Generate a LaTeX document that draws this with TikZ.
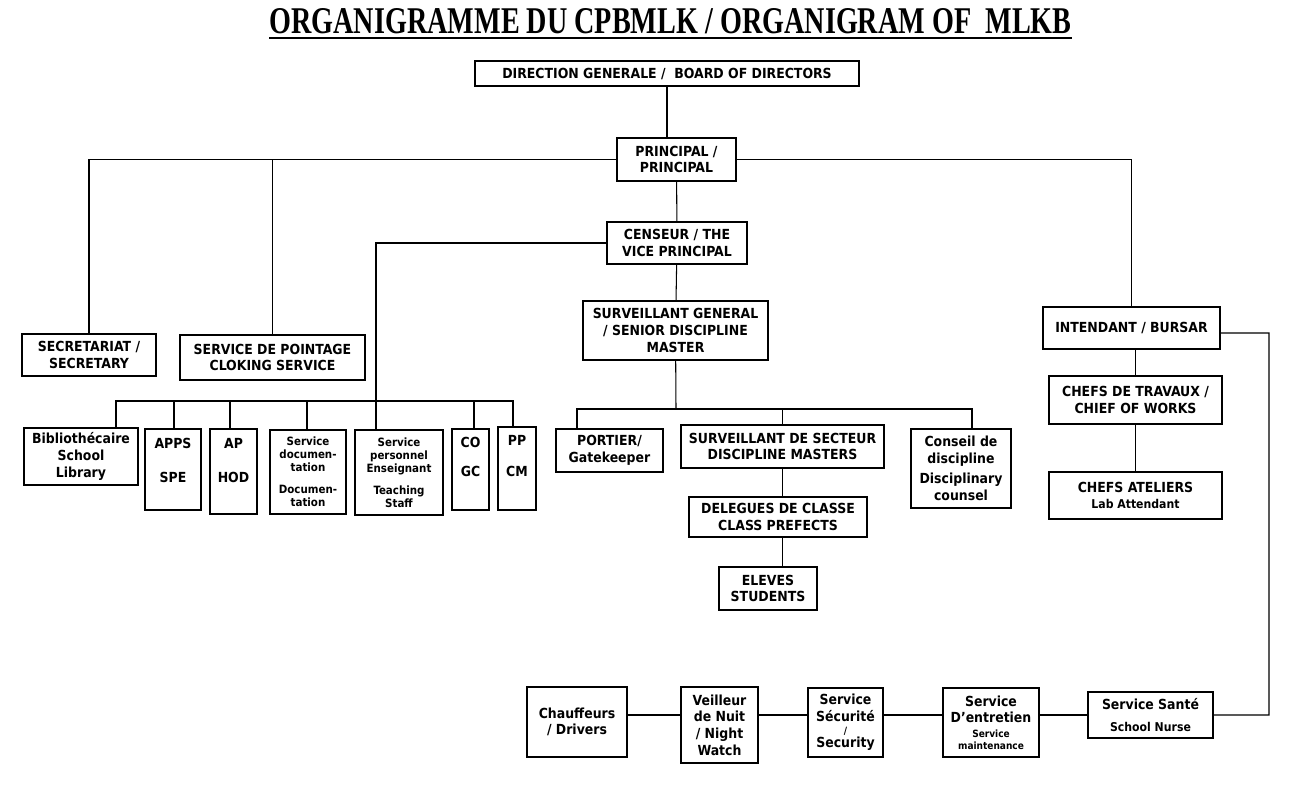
\documentclass[tikz,border=0pt]{standalone}
\usepackage{fontspec}
\setmainfont{DejaVu Sans Condensed}
\newfontfamily\titlefont{Liberation Serif}
\newcommand{\subtxt}{\fontsize{6.9}{8}\selectfont}
\newcommand{\smalltxt}{\fontsize{6.5}{7.4}\selectfont}
\newcommand{\tinytxt}{\fontsize{5.7}{6}\selectfont}
\tikzset{
  box/.style={draw,line width=0.7pt,align=center,inner sep=1pt,
    font=\fontsize{7.9}{9.5}\selectfont\bfseries},
  small box/.style={box,font=\smalltxt\bfseries},
  link/.style={line width=0.6pt},
}

\begin{document}
\begin{tikzpicture}[x=0.2mm,y=-0.2mm]
\useasboundingbox (0,0) rectangle (1301,792);
\node[inner sep=0,anchor=base] (title) at (670.5,34)
  {\resizebox{160.4mm}{5mm}{\titlefont\bfseries ORGANIGRAMME DU CPBMLK / ORGANIGRAM OF~~MLKB}};
\draw[line width=1.4pt] ([yshift=-0.8mm]title.base west) -- ([yshift=-0.8mm]title.base east);

\node[box,minimum width=76.8mm,minimum height=5mm] (dg) at (667,73.5) {DIRECTION GENERALE /~~BOARD OF DIRECTORS};
\node[box,minimum width=23.8mm,minimum height=8.6mm] (pr) at (676.5,159.5) {PRINCIPAL /\\PRINCIPAL};
\node[box,minimum width=28mm,minimum height=8.4mm] (cen) at (677,243) {CENSEUR / THE\\VICE PRINCIPAL};
\node[box,minimum width=37mm,minimum height=11.8mm] (sg) at (675.5,330.5) {SURVEILLANT GENERAL\\/ SENIOR DISCIPLINE\\MASTER};
\node[box,minimum width=26.8mm,minimum height=8.4mm] (secr) at (89,355) {SECRETARIAT /\\SECRETARY};
\node[box,minimum width=37mm,minimum height=9mm] (poin) at (272.5,357.5) {SERVICE DE POINTAGE\\CLOKING SERVICE};

\node[box,minimum width=22.8mm,minimum height=11.4mm] (bib) at (81,456.5) {Bibliothécaire\\School\\Library};
\node[box,minimum width=11.2mm,minimum height=16.2mm] (apps) at (173,469.5) {APPS\\[10pt]SPE\\[1pt]~};
\node[box,minimum width=9.4mm,minimum height=17mm] (ap) at (233.5,471.5) {AP\\[10pt]HOD\\[3pt]~};
\node[small box,minimum width=15.2mm,minimum height=16.8mm] (doc) at (308,472) {Service\\documen-\\tation\\[5pt]Documen-\\tation};
\node[small box,minimum width=17.6mm,minimum height=17mm] (pers) at (399,472.5) {Service\\personnel\\Enseignant\\[5pt]Teaching\\Staff};
\node[box,minimum width=7.4mm,minimum height=16.2mm] (co) at (470.5,469.5) {CO\\[7pt]GC\\[5pt]~};
\node[box,minimum width=7.6mm,minimum height=16.6mm] (pp) at (517,468.5) {PP\\[8pt]CM\\[5pt]~};

\node[box,minimum width=21.4mm,minimum height=8.6mm] (port) at (609.5,450.5) {PORTIER/\\Gatekeeper};
\node[box,minimum width=40.6mm,minimum height=8.6mm] (sect) at (782.5,446.5) {SURVEILLANT DE SECTEUR\\DISCIPLINE MASTERS};
\node[box,minimum width=20mm,minimum height=15.8mm] (cons) at (961,468.5) {Conseil de\\discipline\\[2pt]Disciplinary\\counsel};
\node[box,minimum width=35.6mm,minimum height=8mm] (deleg) at (778,517) {DELEGUES DE CLASSE\\CLASS PREFECTS};
\node[box,minimum width=19.6mm,minimum height=8.6mm] (elev) at (768,588.5) {ELEVES\\STUDENTS};

\node[box,minimum width=35.4mm,minimum height=8.4mm] (int) at (1131.5,328) {INTENDANT / BURSAR};
\node[box,minimum width=34.6mm,minimum height=9.6mm] (chtr) at (1135.5,400) {CHEFS DE TRAVAUX /\\CHIEF OF WORKS};
\node[box,minimum width=34.6mm,minimum height=9.4mm] (chat) at (1135.5,495.5) {CHEFS ATELIERS\\{\subtxt Lab Attendant}};

\node[box,minimum width=20mm,minimum height=14mm] (chauf) at (577,722) {Chauffeurs\\/ Drivers};
\node[box,minimum width=15.4mm,minimum height=15.2mm] (veil) at (719.5,725) {Veilleur\\de Nuit\\/ Night\\Watch};
\node[box,minimum width=15mm,minimum height=13.8mm] (secu) at (845.5,722.5) {Service\\Sécurité\\[-2pt]{\tinytxt /}\\[-2pt]Security};
\node[box,minimum width=19.2mm,minimum height=13.8mm] (entr) at (991,722.5) {Service\\D'entretien\\[-1pt]{\tinytxt Service}\\[-3pt]{\tinytxt maintenance}};
\node[box,minimum width=25mm,minimum height=9.2mm] (sante) at (1150.5,715) {Service Santé\\[3pt]{\subtxt School Nurse}};

\draw[link] (dg.south) -- (dg.south |- pr.north);
\draw[link] (secr.north) |- (pr.west);
\draw[link] (poin.north) |- (pr.west);
\draw[link] (pr.east) -| (int.north);
\draw[link] (pr) -- (cen);
\draw[link] (cen) -- (sg);
\draw[link] (cen.west) -| ([xshift=-4.6mm]pers.north);
\coordinate (lbus) at (376,401);
\foreach \n/\s in {bib/7mm,apps/0.2mm,ap/-0.7mm,doc/-0.2mm,co/0.7mm,pp/-0.8mm}
  \draw[link] ([xshift=\s]\n.north) |- (lbus);
\coordinate (mbus) at (676,409);
\draw[link] (sg) -- (mbus);
\foreach \n/\s in {port/-6.5mm,sect/0mm,cons/2.2mm}
  \draw[link] ([xshift=\s]\n.north) |- (mbus);
\draw[link] (sect.south) -- (sect.south |- deleg.north) (sect.south |- deleg.south) -- (sect.south |- elev.north);
\draw[link] (chtr.north |- int.south) -- (chtr.north) (chtr.south) -- (chat.north);
\coordinate (rbend) at (1269,333);
\draw[link] ([yshift=-1mm]int.east) -- (rbend) |- (sante.east);
\foreach \a/\b in {chauf/veil,veil/secu,secu/entr,entr/sante}
  \draw[link] (\a.east |- sante.west) -- (\b.west |- sante.west);
\end{tikzpicture}
\end{document}
